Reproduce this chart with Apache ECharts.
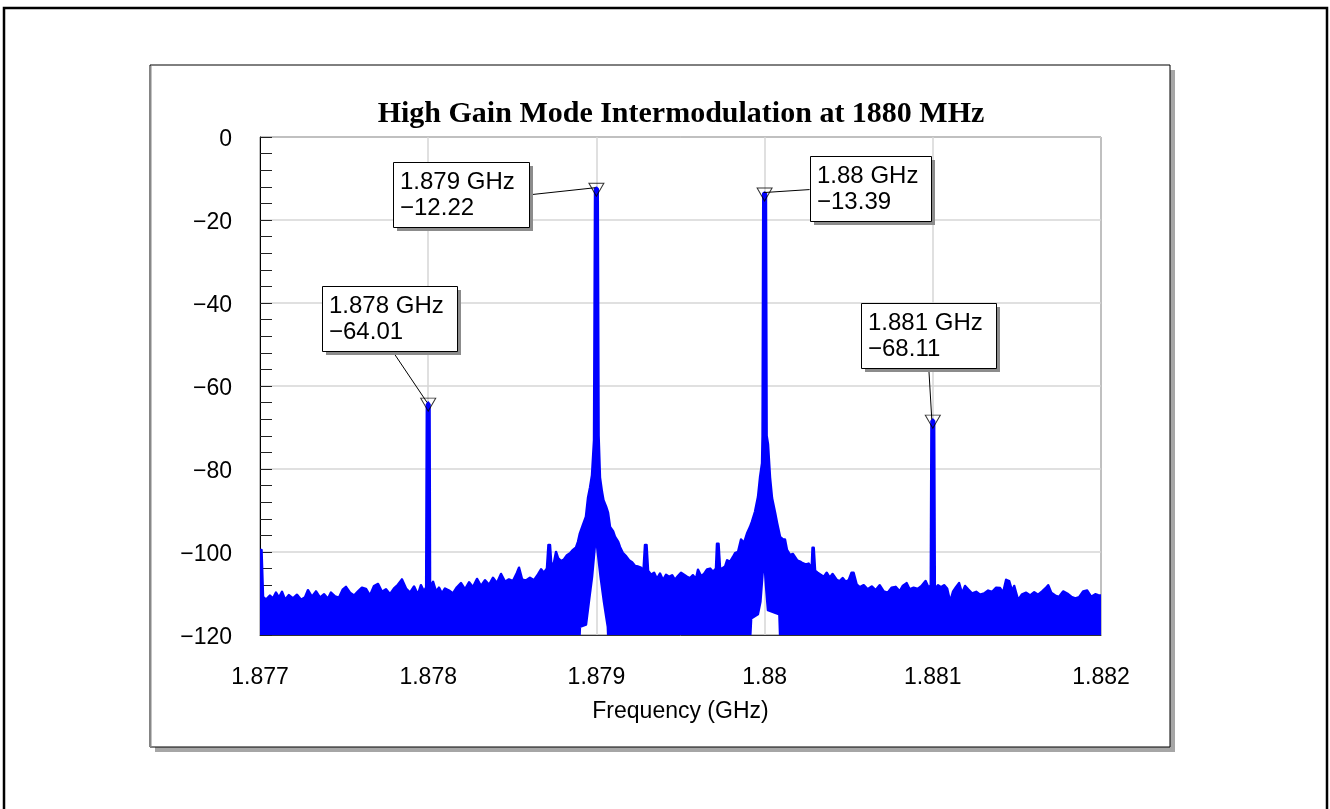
<!DOCTYPE html>
<html>
<head>
<meta charset="utf-8">
<script src="https://cdn.jsdelivr.net/npm/echarts@6/dist/echarts.min.js"></script>
<style>
  html, body { margin: 0; padding: 0; background: #ffffff; }
  #chart { width: 1330px; height: 809px; }
</style>
</head>
<body>
<div id="chart"></div>
<script>
// Axis ranges and tick spacing
const freqMin = 1.877, freqMax = 1.882, freqStep = 0.001;
const dbMin = -120, dbMax = 0, dbStep = 20;

// Spectrum trace: upper envelope [frequency GHz, level dB]
const traceTop = [
  [1.877000, -99.5], [1.877009, -99.5], [1.877018, -110.8], [1.877036, -111.5], [1.877059, -110.5],
  [1.877077, -111.2], [1.877095, -109.8], [1.877113, -111.0], [1.877131, -109.6], [1.877149, -111.5],
  [1.877172, -110.4], [1.877196, -111.2], [1.877220, -110.3], [1.877244, -111.5], [1.877268, -110.9],
  [1.877285, -109.2], [1.877309, -110.8], [1.877333, -109.5], [1.877357, -111.0], [1.877381, -110.2],
  [1.877404, -111.3], [1.877422, -109.8], [1.877446, -110.7], [1.877470, -111.0], [1.877493, -109.0],
  [1.877511, -108.4], [1.877535, -109.8], [1.877559, -110.5], [1.877583, -109.5], [1.877606, -108.6],
  [1.877630, -108.9], [1.877654, -110.5], [1.877678, -108.2], [1.877702, -107.7], [1.877725, -109.6],
  [1.877749, -109.0], [1.877773, -110.2], [1.877797, -108.8], [1.877820, -107.9], [1.877844, -106.6],
  [1.877868, -108.8], [1.877892, -109.8], [1.877916, -108.3], [1.877939, -110.3], [1.877957, -108.0],
  [1.877975, -109.5], [1.877988, -108.5], [1.877992, -64.5], [1.878000, -64.01], [1.878008, -64.5],
  [1.878011, -108.5], [1.878029, -107.2], [1.878046, -109.5], [1.878064, -108.6], [1.878082, -110.0],
  [1.878100, -108.8], [1.878124, -109.3], [1.878147, -110.0], [1.878171, -108.5], [1.878195, -107.5],
  [1.878219, -109.0], [1.878243, -107.3], [1.878266, -108.5], [1.878290, -106.5], [1.878314, -108.2],
  [1.878338, -106.8], [1.878362, -107.9], [1.878385, -106.2], [1.878409, -107.5], [1.878433, -105.3],
  [1.878457, -107.2], [1.878480, -106.6], [1.878504, -107.0], [1.878528, -105.0], [1.878540, -103.8],
  [1.878558, -106.6], [1.878581, -106.9], [1.878605, -106.2], [1.878629, -106.8], [1.878653, -105.4],
  [1.878671, -104.2], [1.878688, -105.0], [1.878706, -104.0], [1.878715, -98.3], [1.878724, -98.3],
  [1.878733, -103.8], [1.878748, -102.5], [1.878760, -100.0], [1.878772, -101.5], [1.878790, -102.2],
  [1.878807, -101.8], [1.878825, -100.8], [1.878843, -100.3], [1.878861, -99.5], [1.878879, -98.9],
  [1.878891, -97.5], [1.878902, -95.5], [1.878920, -93.5], [1.878938, -91.5], [1.878950, -87.0],
  [1.878962, -84.5], [1.878974, -81.5], [1.878986, -73.0], [1.878992, -12.5], [1.879000, -12.22],
  [1.879008, -12.5], [1.879013, -72.0], [1.879021, -82.0], [1.879033, -85.5], [1.879042, -87.5],
  [1.879057, -89.0], [1.879069, -90.5], [1.879081, -94.0], [1.879099, -95.0], [1.879111, -96.4],
  [1.879129, -97.5], [1.879140, -98.8], [1.879158, -100.3], [1.879176, -101.0], [1.879194, -102.0],
  [1.879212, -102.5], [1.879230, -103.4], [1.879248, -103.5], [1.879265, -103.8], [1.879280, -104.5],
  [1.879289, -98.3], [1.879298, -98.3], [1.879307, -104.5], [1.879325, -105.5], [1.879343, -105.0],
  [1.879360, -106.5], [1.879378, -105.2], [1.879396, -106.8], [1.879414, -105.5], [1.879432, -106.0],
  [1.879450, -105.6], [1.879467, -106.7], [1.879485, -105.8], [1.879503, -105.0], [1.879521, -105.5],
  [1.879539, -106.0], [1.879557, -106.3], [1.879574, -105.6], [1.879592, -106.5], [1.879604, -104.3],
  [1.879622, -105.8], [1.879640, -105.3], [1.879658, -104.2], [1.879676, -104.0], [1.879693, -104.8],
  [1.879711, -104.0], [1.879717, -98.0], [1.879726, -98.0], [1.879735, -104.0], [1.879747, -104.0],
  [1.879765, -103.5], [1.879777, -102.0], [1.879795, -102.3], [1.879812, -101.2], [1.879824, -100.3],
  [1.879842, -100.0], [1.879860, -97.0], [1.879878, -97.8], [1.879896, -95.5], [1.879913, -94.0],
  [1.879925, -92.7], [1.879943, -90.3], [1.879961, -86.7], [1.879973, -82.0], [1.879985, -78.6],
  [1.879988, -72.0], [1.879992, -13.6], [1.880000, -13.39], [1.880008, -13.6], [1.880012, -72.0],
  [1.880020, -74.0], [1.880032, -82.0], [1.880044, -87.0], [1.880062, -90.5], [1.880074, -93.0],
  [1.880092, -96.4], [1.880110, -97.0], [1.880121, -97.0], [1.880133, -99.5], [1.880151, -100.7],
  [1.880169, -100.5], [1.880193, -102.0], [1.880211, -102.3], [1.880226, -102.7], [1.880244, -103.0],
  [1.880262, -102.8], [1.880280, -104.0], [1.880285, -99.0], [1.880292, -99.0], [1.880300, -104.5],
  [1.880315, -105.0], [1.880333, -105.5], [1.880351, -106.0], [1.880369, -105.0], [1.880387, -106.2],
  [1.880404, -105.3], [1.880428, -106.7], [1.880446, -107.0], [1.880464, -106.3], [1.880482, -107.2],
  [1.880500, -106.8], [1.880517, -105.0], [1.880529, -105.0], [1.880547, -107.8], [1.880565, -108.5],
  [1.880589, -108.0], [1.880613, -109.0], [1.880637, -108.3], [1.880660, -109.2], [1.880684, -108.0],
  [1.880708, -109.5], [1.880732, -109.8], [1.880755, -108.6], [1.880779, -108.4], [1.880803, -109.5],
  [1.880821, -108.2], [1.880844, -107.5], [1.880862, -109.0], [1.880886, -108.6], [1.880910, -108.9],
  [1.880933, -108.2], [1.880957, -107.0], [1.880975, -108.6], [1.880988, -108.0], [1.880992, -68.5],
  [1.881000, -68.11], [1.881008, -68.5], [1.881012, -109.0], [1.881031, -108.0], [1.881049, -108.5],
  [1.881067, -108.0], [1.881085, -108.8], [1.881103, -112.0], [1.881121, -109.5], [1.881138, -108.5],
  [1.881156, -107.5], [1.881174, -110.0], [1.881192, -108.2], [1.881210, -109.0], [1.881234, -110.0],
  [1.881258, -109.6], [1.881281, -110.3], [1.881305, -110.0], [1.881329, -109.3], [1.881353, -109.6],
  [1.881377, -108.6], [1.881400, -108.7], [1.881418, -109.8], [1.881436, -106.7], [1.881454, -107.0],
  [1.881472, -109.5], [1.881484, -108.2], [1.881507, -111.6], [1.881531, -110.2], [1.881555, -109.8],
  [1.881579, -110.5], [1.881603, -109.7], [1.881626, -110.3], [1.881650, -109.5], [1.881674, -108.6],
  [1.881686, -108.0], [1.881704, -109.8], [1.881728, -110.5], [1.881751, -110.8], [1.881775, -109.5],
  [1.881799, -110.0], [1.881823, -110.8], [1.881847, -111.2], [1.881870, -110.9], [1.881894, -109.5],
  [1.881918, -109.3], [1.881942, -110.8], [1.881966, -110.2], [1.881984, -110.4], [1.882000, -110.5]
];

// Spectrum trace: lower envelope (the sweep lifts off the floor next to each carrier)
const traceFloor = [
  [1.877000, -120], [1.878900, -120], [1.878902, -118], [1.878938, -117.5], [1.878955, -112],
  [1.878974, -106], [1.878992, -98], [1.879000, -97], [1.879008, -100], [1.879025, -106],
  [1.879045, -112], [1.879060, -116], [1.879068, -118], [1.879070, -120], [1.879915, -120],
  [1.879920, -116], [1.879960, -115], [1.879975, -112], [1.879990, -104], [1.880000, -103],
  [1.880008, -108], [1.880020, -114], [1.880088, -115], [1.880092, -120], [1.882000, -120]
];

// Marker readouts
const markerFreq = [1.878, 1.879, 1.880, 1.881];
const markerDb = [-64.01, -12.22, -13.39, -68.11];

const BLUE = '#0000ff';
const SANS = '"Liberation Sans", Arial, sans-serif';
const MINUS = '\u2212';
const signed = s => s.replace('-', MINUS);

const chart = echarts.init(document.getElementById('chart'), null, { renderer: 'canvas' });

const option = {
  animation: false,
  backgroundColor: '#ffffff',
  title: {
    text: 'High Gain Mode Intermodulation at 1880 MHz',
    left: 681,
    textAlign: 'center',
    top: 99,
    padding: 0,
    textStyle: { fontFamily: '"Liberation Serif", "Times New Roman", serif', fontWeight: 'bold', fontSize: 30, color: '#000' }
  },
  grid: { left: 260, top: 137, right: 229, bottom: 174, outerBoundsMode: 'none', containLabel: false,
          show: true, borderColor: '#000', borderWidth: 1, backgroundColor: 'transparent' },
  xAxis: {
    type: 'value', min: freqMin, max: freqMax, interval: freqStep,
    name: 'Frequency (GHz)', nameLocation: 'middle', nameGap: 65,
    nameTextStyle: { fontFamily: SANS, fontSize: 23, color: '#000' },
    axisLine: { show: true, onZero: false, lineStyle: { color: '#333', width: 1 } },
    axisTick: { show: false },
    axisLabel: { fontFamily: SANS, fontSize: 23, color: '#000', margin: 31,
                 formatter: v => String(parseFloat(v.toFixed(3))) },
    splitLine: { show: true, lineStyle: { color: '#d6d6d6', width: 1.5 } }
  },
  yAxis: {
    type: 'value', min: dbMin, max: dbMax, interval: dbStep,
    axisLine: { show: true, onZero: false, lineStyle: { color: '#000', width: 1 } },
    axisTick: { show: true, inside: true, length: 12, lineStyle: { color: '#222', width: 1 } },
    minorTick: { show: true, splitNumber: 5, length: 12, lineStyle: { color: '#222', width: 1 } },
    axisLabel: { color: '#000', margin: 28,
                 formatter: v => '{v|' + signed(String(v)) + '}',
                 rich: { v: { fontFamily: SANS, fontSize: 23, color: '#000', padding: [6, 0, 0, 0] } } },
    splitLine: { show: true, lineStyle: { color: '#d6d6d6', width: 1.5 } }
  },
  series: [
    {
      // Filled spectrum sweep drawn as one band between the two envelopes
      type: 'custom',
      coordinateSystem: 'cartesian2d',
      clip: true,
      z: 3,
      data: [[freqMin, dbMin]],
      encode: { x: 0, y: 1 },
      renderItem: (params, api) => {
        if (params.dataIndex !== 0) return null;
        const pts = traceTop.map(p => api.coord(p));
        for (let i = traceFloor.length - 1; i >= 0; i--) pts.push(api.coord(traceFloor[i]));
        return {
          type: 'polygon',
          shape: { points: pts },
          style: { fill: BLUE, stroke: BLUE, lineWidth: 2.5, lineJoin: 'round' }
        };
      }
    },
    {
      // Marker triangles sitting on the peaks
      type: 'scatter',
      z: 5,
      data: markerFreq.map((f, i) => [f, markerDb[i]]),
      symbol: 'triangle',
      symbolRotate: 180,
      symbolSize: [15, 13],
      symbolOffset: [0, 2],
      itemStyle: { color: 'rgba(255,255,255,0)', borderColor: '#000', borderWidth: 1 },
      silent: true
    }
  ]
};

chart.setOption(option);

// Readout boxes placed relative to each marker: box offset, box width, leader start
const boxLayout = [
  { dx: -106, dy: -117, w: 135, lx: -36, ly: -52 },
  { dx: -203, dy: -26, w: 136, lx: -66, ly: 7 },
  { dx: 45, dy: -37, w: 121, lx: 45, ly: -3 },
  { dx: -72, dy: -117, w: 135, lx: -4, ly: -51 }
];
const BOX_H = 65;
const BOX_FONT = '24px ' + SANS;

const graphics = [
  // page frame
  { type: 'rect', z: -20, silent: true, shape: { x: 4, y: 8, width: 1323, height: 812 },
    style: { fill: 'none', stroke: '#000', lineWidth: 2.5 } },
  // chart panel with drop shadow
  { type: 'rect', z: -19, silent: true, shape: { x: 155, y: 70, width: 1020, height: 682 },
    style: { fill: '#a6a6a6' } },
  { type: 'rect', z: -18, silent: true, shape: { x: 150, y: 65, width: 1020, height: 682 },
    style: { fill: '#ffffff', stroke: '#000', lineWidth: 1 } },
  { type: 'line', z: -17, silent: true, shape: { x1: 150.5, y1: 66, x2: 150.5, y2: 747 },
    style: { stroke: '#888', lineWidth: 2 } }
];

markerFreq.forEach((f, i) => {
  const [mx, my] = chart.convertToPixel({ gridIndex: 0 }, [f, markerDb[i]]);
  const L = boxLayout[i];
  const bx = Math.round(mx + L.dx), by = Math.round(my + L.dy);
  graphics.push(
    { type: 'line', z: 50, silent: true,
      shape: { x1: mx + L.lx, y1: my + L.ly, x2: mx - 1, y2: my },
      style: { stroke: '#000', lineWidth: 1 } },
    { type: 'rect', z: 51, silent: true, shape: { x: bx + 4, y: by + 4, width: L.w, height: BOX_H },
      style: { fill: '#8c8c8c' } },
    { type: 'rect', z: 52, silent: true, shape: { x: bx + 0.5, y: by + 0.5, width: L.w, height: BOX_H },
      style: { fill: '#ffffff', stroke: '#000', lineWidth: 1 } },
    { type: 'text', z: 53, silent: true, x: bx + 7, y: by + 20,
      style: { text: String(f) + ' GHz', font: BOX_FONT, fill: '#000', verticalAlign: 'middle', align: 'left' } },
    { type: 'text', z: 53, silent: true, x: bx + 7, y: by + 46,
      style: { text: signed(markerDb[i].toFixed(2)), font: BOX_FONT, fill: '#000', verticalAlign: 'middle', align: 'left' } }
  );
});

chart.setOption({ graphic: graphics });
</script>
</body>
</html>
